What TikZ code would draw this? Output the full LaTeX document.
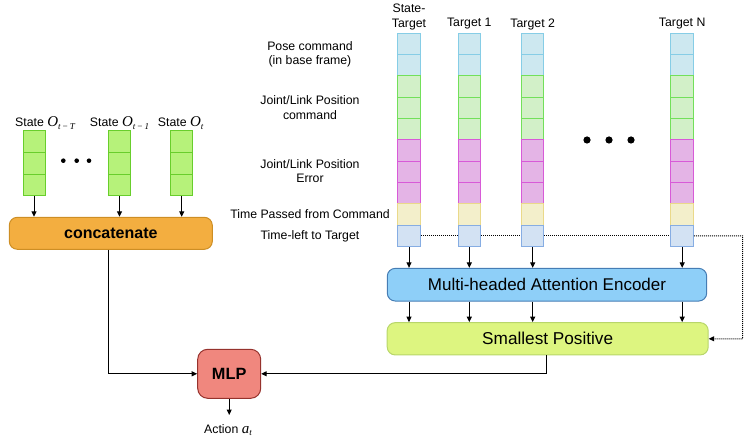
\documentclass[tikz,border=0pt]{standalone}
\usepackage{fontspec}
\setmainfont{Liberation Sans}
\newfontfamily\tms{Liberation Serif}
\usetikzlibrary{arrows.meta}
\definecolor{stfill}{RGB}{182,242,122}
\definecolor{stdraw}{RGB}{104,206,44}
\definecolor{ccfill}{RGB}{243,174,64}
\definecolor{ccdraw}{RGB}{205,142,36}
\definecolor{enfill}{RGB}{142,207,248}
\definecolor{endraw}{RGB}{70,125,180}
\definecolor{spfill}{RGB}{221,245,128}
\definecolor{spdraw}{RGB}{184,214,106}
\definecolor{mlfill}{RGB}{240,135,126}
\definecolor{mldraw}{RGB}{150,50,45}
\definecolor{pofill}{RGB}{205,232,240}
\definecolor{podraw}{RGB}{134,205,230}
\definecolor{jcfill}{RGB}{210,240,200}
\definecolor{jcdraw}{RGB}{114,224,90}
\definecolor{jefill}{RGB}{228,180,230}
\definecolor{jedraw}{RGB}{216,90,216}
\definecolor{tpfill}{RGB}{243,239,203}
\definecolor{tpdraw}{RGB}{234,217,138}
\definecolor{tlfill}{RGB}{211,226,243}
\definecolor{tldraw}{RGB}{134,173,227}
\newcommand{\symO}[1]{{\tms\itshape\fontsize{15}{15}\selectfont O}{\tms\itshape\fontsize{9}{9}\selectfont\raisebox{-2.5pt}{#1}}}
\tikzset{
  lbl/.style={font=\fontsize{12.3}{14.5}\selectfont, inner sep=0pt, align=center},
  cell/.style={draw, line width=1pt, minimum width=22.5pt, minimum height=21.33pt, inner sep=0pt},
  scell/.style={draw=stdraw, fill=stfill, line width=1pt, minimum width=22pt, minimum height=21.7pt, inner sep=0pt},
  row1/.style={fill=pofill, draw=podraw},
  row2/.style={fill=pofill, draw=podraw},
  row3/.style={fill=jcfill, draw=jcdraw},
  row4/.style={fill=jcfill, draw=jcdraw},
  row5/.style={fill=jcfill, draw=jcdraw},
  row6/.style={fill=jefill, draw=jedraw},
  row7/.style={fill=jefill, draw=jedraw},
  row8/.style={fill=jefill, draw=jedraw},
  row9/.style={fill=tpfill, draw=tpdraw},
  row10/.style={fill=tlfill, draw=tldraw},
  arr/.style={line width=1pt, -{Triangle[length=5.5pt,width=5pt]}},
  bigbox/.style={line width=1pt, rounded corners=8pt, inner sep=0pt},
}
\begin{document}
\begin{tikzpicture}[x=1pt,y=-1pt]
\useasboundingbox (0,0) rectangle (750,438);

% right columns
\foreach \k/\xc in {1/409,2/469.3,3/532.7,4/682.2}{
  \foreach \j in {1,...,10}{
    \node[cell,row\j] (c\k-\j) at (\xc,{33.3+(\j-0.5)*21.33}) {};
  }
}
\node[lbl] (hst) at (409,17) {State-\\Target};
\node[lbl] (h1) at (469.3,24) {Target 1};
\node[lbl] (h2) at (532.7,24) {Target 2};
\node[lbl] (hN) at (682.2,24) {Target N};

\node[lbl] (lpose) at (310,54.5) {Pose command\\(in base frame)};
\node[lbl] (ljc) at (310,107.5) {Joint/Link Position\\command};
\node[lbl] (lje) at (310,171) {Joint/Link Position\\Error};
\node[lbl] (ltp) at (310,214) {Time Passed from Command};
\node[lbl] (ltl) at (310,236) {Time-left to Target};

\foreach \xd in {587,609,631}{\fill (\xd,140) circle (3.6pt);}

% encoder and smallest positive
\node[bigbox, draw=endraw, fill=enfill, minimum width=319.4pt, minimum height=32.7pt,
  font=\fontsize{17}{20}\selectfont] (enc) at (547,284.7) {Multi-headed Attention Encoder};
\node[bigbox, draw=spdraw, fill=spfill, minimum width=321pt, minimum height=32.3pt,
  font=\fontsize{17.2}{20}\selectfont] (sp) at (547.7,338.8) {Smallest Positive};

\foreach \k in {1,2,3,4}{
  \draw[arr] (c\k-10.south) -- (c\k-10.south |- enc.north);
  \draw[arr] (c\k-10.south |- enc.south) -- (c\k-10.south |- sp.north);
}

% dotted line
\tikzset{dl/.style={dash pattern=on 1pt off 1pt, line width=1pt}}
\draw[dl] (c1-10.east) -- (c2-10.west);
\draw[dl] (c2-10.east) -- (c3-10.west);
\draw[dl] (c3-10.east) -- (c4-10.west);
\coordinate (dc) at (742.7,236);
\draw[dl, -{Triangle[length=5.5pt,width=5pt]}] (c4-10.east) -- (dc) |- (sp.east);

% left states
\foreach \k/\xc in {1/34,2/119.5,3/181.7}{
  \foreach \j in {1,2,3}{
    \node[scell] (s\k-\j) at (\xc,{130.7+(\j-0.5)*21.7}) {};
  }
}
\node[lbl, anchor=base] (ls1) at (45,127) {State \symO{t\,\textminus\,T}};
\node[lbl, anchor=base] (ls2) at (119.5,127) {State \symO{t\,\textminus\,1}};
\node[lbl, anchor=base] (ls3) at (180.7,127) {State \symO{t}};
\foreach \xd in {63.3,76.7,89}{\fill (\xd,160.7) circle (2.3pt);}

\node[bigbox, draw=ccdraw, fill=ccfill, minimum width=203pt, minimum height=32pt,
  font=\fontsize{16}{19}\selectfont\bfseries] (concat) at (110.8,233.3) {concatenate};
\foreach \k in {1,2,3}{
  \draw[arr] (s\k-3.south) -- (s\k-3.south |- concat.north);
}

% MLP
\node[line width=1pt, rounded corners=10pt, draw=mldraw, fill=mlfill, minimum width=63pt, minimum height=49pt,
  inner sep=0pt, font=\fontsize{16.3}{19}\selectfont\bfseries] (mlp) at (229.2,373.8) {MLP};
\coordinate (cturn) at (108.3,373.8);
\draw[arr] (cturn |- concat.south) -- (cturn) -- (mlp.west);
\coordinate (sturn) at (546.7,373.8);
\draw[arr] (sturn |- sp.south) -- (sturn) -- (mlp.east);
\coordinate (aend) at (229.2,415);
\draw[arr] (mlp.south) -- (aend);
\node[lbl, anchor=base] (act) at (228,433) {Action {\tms\itshape\fontsize{15}{15}\selectfont a}{\tms\itshape\fontsize{9}{9}\selectfont\raisebox{-2.5pt}{t}}};
\end{tikzpicture}
\end{document}
